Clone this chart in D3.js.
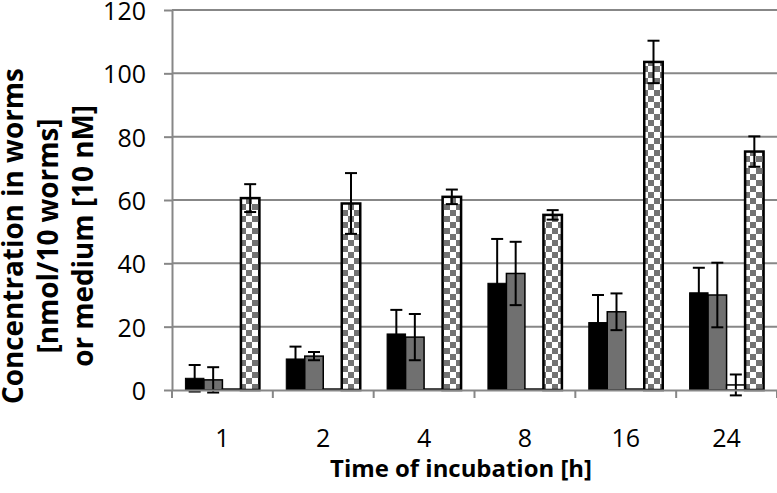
<!DOCTYPE html>
<html><head><meta charset="utf-8">
<script src="https://cdn.jsdelivr.net/npm/d3@7"></script>
<style>body{margin:0;background:#fff}svg{display:block}</style>
</head><body>
<svg id="c" width="777" height="493"></svg>
<script>
const categories = ["1", "2", "4", "8", "16", "24"];
const seriesNames = ["black", "gray", "white", "checker"];
const blackValues = [3.7, 9.8, 17.7, 33.7, 21.3, 30.7];
const blackErrors = [4.2, 3.9, 7.6, 14.0, 8.7, 7.9];
const grayValues = [3.2, 10.7, 16.7, 36.8, 24.7, 30.0];
const grayErrors = [4.0, 1.3, 7.3, 10.0, 5.8, 10.2];
const whiteValues = [0.3, 0.3, 0.3, 0.3, 0.3, 1.6];
const whiteErrors = [0, 0, 0, 0, 0, 3.3];
const checkerValues = [60.6, 58.9, 61.0, 55.3, 103.6, 75.3];
const checkerErrors = [4.4, 9.6, 2.3, 1.5, 6.7, 4.8];
const yTicks = [0, 20, 40, 60, 80, 100, 120];
const yTitleLines = ["Concentration in worms", "[nmol/10 worms]", "or medium [10 nM]"];
const xTitle = "Time of incubation [h]";

const svg = d3.select("#c");
const FONT = "'Open Sans', 'Noto Sans', sans-serif";
const gridColor = "#878787";

const x = d3.scaleBand().domain(categories).range([172, 777]).paddingInner(0).paddingOuter(0);
const barW = 18.5;
const xs = d3.scaleBand().domain(seriesNames).range([0, 4 * barW]);
const groupOffset = (x.bandwidth() - 4 * barW) / 2;
const y = d3.scaleLinear().domain([0, 120]).range([390, 10]);

// pattern
const defs = svg.append("defs");
const pat = defs.append("pattern").attr("id", "checker").attr("patternUnits", "userSpaceOnUse")
  .attr("width", 12).attr("height", 12);
pat.append("rect").attr("width", 12).attr("height", 12).attr("fill", "#fff");
pat.append("rect").attr("width", 6).attr("height", 6).attr("fill", "#737373");
pat.append("rect").attr("x", 6).attr("y", 6).attr("width", 6).attr("height", 6).attr("fill", "#737373");

// gridlines
svg.append("g").selectAll("line").data(yTicks.filter(d => d > 0)).join("line")
  .attr("x1", 172).attr("x2", 777)
  .attr("y1", d => y(d)).attr("y2", d => y(d))
  .attr("stroke", gridColor).attr("stroke-width", 2);

const series = [
  {key: "black", values: blackValues, errors: blackErrors, fill: "#000", stroke: "#000", sw: 1},
  {key: "gray", values: grayValues, errors: grayErrors, fill: "#707070", stroke: "#000", sw: 1.5},
  {key: "white", values: whiteValues, errors: whiteErrors, fill: "#fff", stroke: "#000", sw: 1.5},
  {key: "checker", values: checkerValues, errors: checkerErrors, fill: "url(#checker)", stroke: "#000", sw: 2.5}
];

const barsG = svg.append("g");
series.forEach(s => {
  const data = categories.map((c, i) => ({c, v: s.values[i], e: s.errors[i]}));
  barsG.append("g").selectAll("rect").data(data).join("rect")
    .attr("x", d => x(d.c) + groupOffset + xs(s.key))
    .attr("width", xs.bandwidth())
    .attr("y", d => y(d.v))
    .attr("height", d => y(0) - y(d.v))
    .attr("fill", s.fill).attr("stroke", s.stroke).attr("stroke-width", s.sw);
});

const errG = svg.append("g").attr("stroke", "#000").attr("stroke-width", 2);
const cap = 6;
series.forEach(s => {
  const data = categories.map((c, i) => ({c, v: s.values[i], e: s.errors[i]})).filter(d => d.e > 0);
  const g = errG.append("g");
  const cx = d => x(d.c) + groupOffset + xs(s.key) + xs.bandwidth() / 2;
  g.selectAll("line.v").data(data).join("line").attr("class", "v")
    .attr("x1", cx).attr("x2", cx).attr("y1", d => y(d.v - d.e)).attr("y2", d => y(d.v + d.e));
  g.selectAll("line.t").data(data).join("line").attr("class", "t")
    .attr("x1", d => cx(d) - cap).attr("x2", d => cx(d) + cap).attr("y1", d => y(d.v + d.e)).attr("y2", d => y(d.v + d.e));
  g.selectAll("line.b").data(data).join("line").attr("class", "b")
    .attr("x1", d => cx(d) - cap).attr("x2", d => cx(d) + cap).attr("y1", d => y(d.v - d.e)).attr("y2", d => y(d.v - d.e));
});

// y axis
const yAxis = svg.append("g").attr("transform", "translate(172,0)")
  .call(d3.axisLeft(y).tickValues(yTicks).tickSize(8).tickPadding(18).tickSizeOuter(0));
yAxis.select(".domain").attr("stroke", gridColor).attr("stroke-width", 2);
yAxis.selectAll(".tick line").attr("stroke", gridColor).attr("stroke-width", 2);
yAxis.selectAll(".tick text").attr("font-family", FONT).attr("font-size", 25).attr("fill", "#000")
  .attr("dy", "0.38em");

// x axis
const xAxis = svg.append("g").attr("transform", "translate(0,390)")
  .call(d3.axisBottom(x).tickSize(0).tickPadding(0).tickSizeOuter(0));
xAxis.select(".domain").attr("stroke", gridColor).attr("stroke-width", 2);
xAxis.selectAll(".tick text").attr("font-family", FONT).attr("font-size", 25).attr("fill", "#000")
  .attr("dy", null).attr("y", 57);
const boundaries = categories.map(c => x(c)).concat([x.range()[1]]);
xAxis.append("g").selectAll("line").data(boundaries).join("line")
  .attr("x1", d => d).attr("x2", d => d).attr("y1", 0).attr("y2", 8)
  .attr("stroke", gridColor).attr("stroke-width", 2);

// titles
function fitFont(sel, target) {
  sel.attr("font-size", 30);
  const w = sel.node().getComputedTextLength();
  const fs = 30 * target / w;
  sel.attr("font-size", fs);
  return fs;
}
const xt = svg.append("text").text(xTitle).attr("x", 461).attr("y", 477)
  .attr("text-anchor", "middle").attr("font-family", FONT).attr("font-weight", "bold").attr("fill", "#000");
fitFont(xt, 262);

const ytBase = [23, 58, 93];
const ytG = svg.append("g");
const first = ytG.append("text").text(yTitleLines[0]).attr("font-family", FONT).attr("font-weight", "bold");
const fsY = fitFont(first, 336);
first.remove();
ytG.selectAll("text").data(yTitleLines).join("text")
  .text(d => d)
  .attr("transform", (d, i) => `translate(${ytBase[i]},236) rotate(-90)`)
  .attr("text-anchor", "middle").attr("font-family", FONT).attr("font-weight", "bold")
  .attr("font-size", fsY).attr("fill", "#000");
</script>
</body></html>
